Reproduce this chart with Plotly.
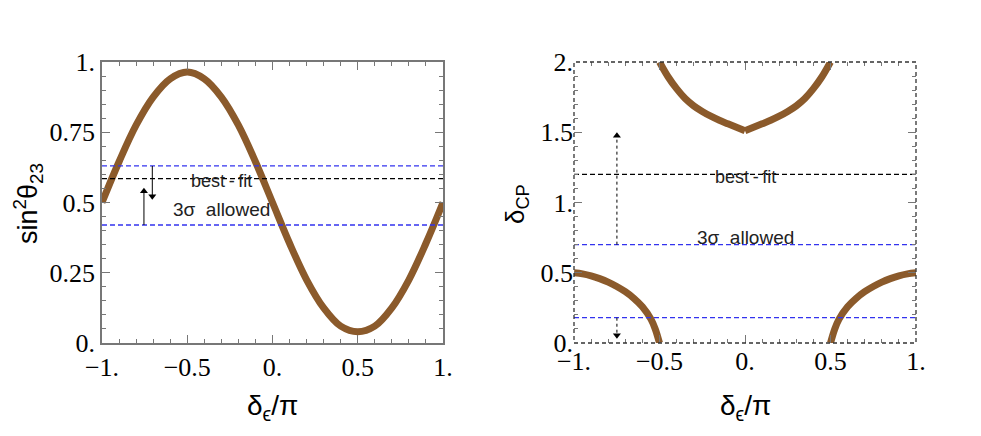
import plotly.graph_objects as go

# left panel: sin^2(theta23) vs delta_eps/pi
x_left = [-1.0, -0.9, -0.8, -0.7, -0.6, -0.5, -0.4, -0.3, -0.2, -0.1, 0.0,
          0.1, 0.2, 0.3, 0.4, 0.5, 0.6, 0.7, 0.8, 0.9, 1.0]
s23_left = [0.50, 0.645, 0.775, 0.875, 0.94, 0.964, 0.94, 0.875, 0.775, 0.645, 0.50,
            0.355, 0.225, 0.125, 0.06, 0.04, 0.06, 0.125, 0.225, 0.355, 0.50]
s23_best = 0.585
s23_3sig = [0.42, 0.63]

# right panel: delta_CP vs delta_eps/pi, three branches
x_up_l = [-0.5, -0.45, -0.4, -0.35, -0.3, -0.25, -0.2, -0.15, -0.1, -0.05, 0.0]
dcp_up_l = [2.0, 1.895, 1.81, 1.74, 1.688, 1.648, 1.614, 1.585, 1.56, 1.535, 1.51]
x_up_r = [0.0, 0.05, 0.1, 0.15, 0.2, 0.25, 0.3, 0.35, 0.4, 0.45, 0.5]
dcp_up_r = [1.51, 1.535, 1.56, 1.585, 1.614, 1.648, 1.688, 1.74, 1.81, 1.895, 2.0]
x_lo_l = [-1.0, -0.95, -0.9, -0.85, -0.8, -0.75, -0.7, -0.65, -0.6, -0.55, -0.525, -0.5]
dcp_lo_l = [0.50, 0.492, 0.478, 0.458, 0.433, 0.402, 0.365, 0.318, 0.258, 0.17, 0.10, 0.0]
x_lo_r = [0.5, 0.525, 0.55, 0.6, 0.65, 0.7, 0.75, 0.8, 0.85, 0.9, 0.95, 1.0]
dcp_lo_r = [0.0, 0.10, 0.17, 0.258, 0.318, 0.365, 0.402, 0.433, 0.458, 0.478, 0.492, 0.50]
dcp_best = 1.2
dcp_3sig = [0.18, 0.70]

BROWN = '#8b5a2b'
BLUE = '#3333ee'
FRAME = '#777777'
serif = 'Liberation Serif'
sans = 'Liberation Sans'

# page has an 8px body margin, so pixel positions below are relative to the figure
W, H = 981, 436


def px(x):
    return x / W


def py(y):
    return 1 - y / H


fig = go.Figure()

fig.add_trace(go.Scatter(x=x_left, y=s23_left, mode='lines', line=dict(color=BROWN, width=7, shape='spline'),
                         xaxis='x', yaxis='y'))
for xs, ys in [(x_up_l, dcp_up_l), (x_up_r, dcp_up_r), (x_lo_l, dcp_lo_l), (x_lo_r, dcp_lo_r)]:
    fig.add_trace(go.Scatter(x=xs, y=ys, mode='lines', line=dict(color=BROWN, width=7, shape='spline', smoothing=1),
                             xaxis='x2', yaxis='y2'))


# horizontal reference lines
def hline(y, color, xa, ya):
    fig.add_trace(go.Scatter(x=[-1, 1], y=[y, y], mode='lines',
                             line=dict(color=color, width=1.3, dash='5px,3px'), xaxis=xa, yaxis=ya))


hline(s23_best, 'black', 'x', 'y')
for v in s23_3sig:
    hline(v, BLUE, 'x', 'y')
hline(dcp_best, 'black', 'x2', 'y2')
for v in dcp_3sig:
    hline(v, BLUE, 'x2', 'y2')


# arrows
def arrow(x, y0, y1, xa, ya, dash='solid'):
    fig.add_trace(go.Scatter(x=[x, x], y=[y0, y1], mode='lines', line=dict(color='black', width=1, dash=dash),
                             xaxis=xa, yaxis=ya))
    sym = 'triangle-up' if y1 > y0 else 'triangle-down'
    fig.add_trace(go.Scatter(x=[x], y=[y1], mode='markers', marker=dict(symbol=sym, size=7, color='black'),
                             xaxis=xa, yaxis=ya))


arrow(-0.705, 0.63, 0.522, 'x', 'y')
arrow(-0.754, 0.42, 0.54, 'x', 'y')
arrow(-0.749, 0.70, 1.475, 'x2', 'y2', dash='3px,3px')
arrow(-0.749, 0.18, 0.055, 'x2', 'y2', dash='3px,3px')

tick_font = dict(family=serif, size=26, color='black')
xt = [-1, -0.5, 0, 0.5, 1]
xtt = ['−1.', '−0.5', '0.', '0.5', '1.']

common = dict(ticks='inside', ticklen=8, tickcolor=FRAME, mirror='allticks', showgrid=False, zeroline=False,
              automargin=False, tickfont=tick_font,
              minor=dict(ticks='inside', ticklen=4, tickcolor=FRAME, showgrid=False))

ydom = [py(335), py(54)]
fig.update_layout(
    width=W, height=H, margin=dict(l=0, r=0, t=0, b=0),
    plot_bgcolor='white', paper_bgcolor='white', showlegend=False,
    xaxis=dict(domain=[px(94), px(435)], range=[-1, 1], anchor='y', tickvals=xt, ticktext=xtt,
               showline=True, linecolor=FRAME, linewidth=1.5, **common),
    yaxis=dict(domain=ydom, range=[0, 1], anchor='x',
               tickvals=[0, 0.25, 0.5, 0.75, 1], ticktext=['0.', '0.25', '0.5', '0.75', '1.'],
               showline=True, linecolor=FRAME, linewidth=1.5, **common),
    xaxis2=dict(domain=[px(566), px(908)], range=[-1, 1], anchor='y2', tickvals=xt, ticktext=xtt,
                showline=False, **common),
    yaxis2=dict(domain=ydom, range=[0, 2], anchor='x2',
                tickvals=[0, 0.5, 1, 1.5, 2], ticktext=['0.', '0.5', '1.', '1.5', '2.'],
                showline=False, **common),
)
fig.update_xaxes(minor_dtick=0.1)
fig.update_layout(yaxis_minor_dtick=0.05, yaxis2_minor_dtick=0.1)

# dashed frame of the right panel
fig.add_shape(type='rect', xref='x2 domain', yref='y2 domain', x0=0, x1=1, y0=0, y1=1,
              line=dict(color='#333333', width=1.3, dash='4px,3px'))

txt = '#222222'
bf_font = dict(family=sans, size=18, color=txt)
al_font = dict(family=sans, size=19, color=txt)
best_txt = 'best\u2009-\u2009fit'
sig_txt = '3σ\u00a0 allowed'
fig.add_annotation(x=-0.30, y=0.578, xref='x', yref='y', text=best_txt, showarrow=False, font=bf_font)
fig.add_annotation(x=-0.30, y=0.475, xref='x', yref='y', text=sig_txt, showarrow=False, font=al_font)
fig.add_annotation(x=0.0, y=1.18, xref='x2', yref='y2', text=best_txt, showarrow=False, font=bf_font)
fig.add_annotation(x=0.0, y=0.748, xref='x2', yref='y2', text=sig_txt, showarrow=False, font=al_font)

for x0, y0, t, ang, sz in [(264, 399, 'δ<sub>ϵ</sub>/π', 0, 28), (737, 399, 'δ<sub>ϵ</sub>/π', 0, 28),
                           (20, 196, 'sin<sup>2</sup>θ<sub>23</sub>', -90, 27), (508, 196, 'δ<sub>CP</sub>', -90, 26)]:
    fig.add_annotation(x=px(x0), y=py(y0), xref='paper', yref='paper', text=t, showarrow=False,
                       xanchor='center', yanchor='middle', textangle=ang,
                       font=dict(family=sans, size=sz, color='black'))

fig.write_html('out.html')
